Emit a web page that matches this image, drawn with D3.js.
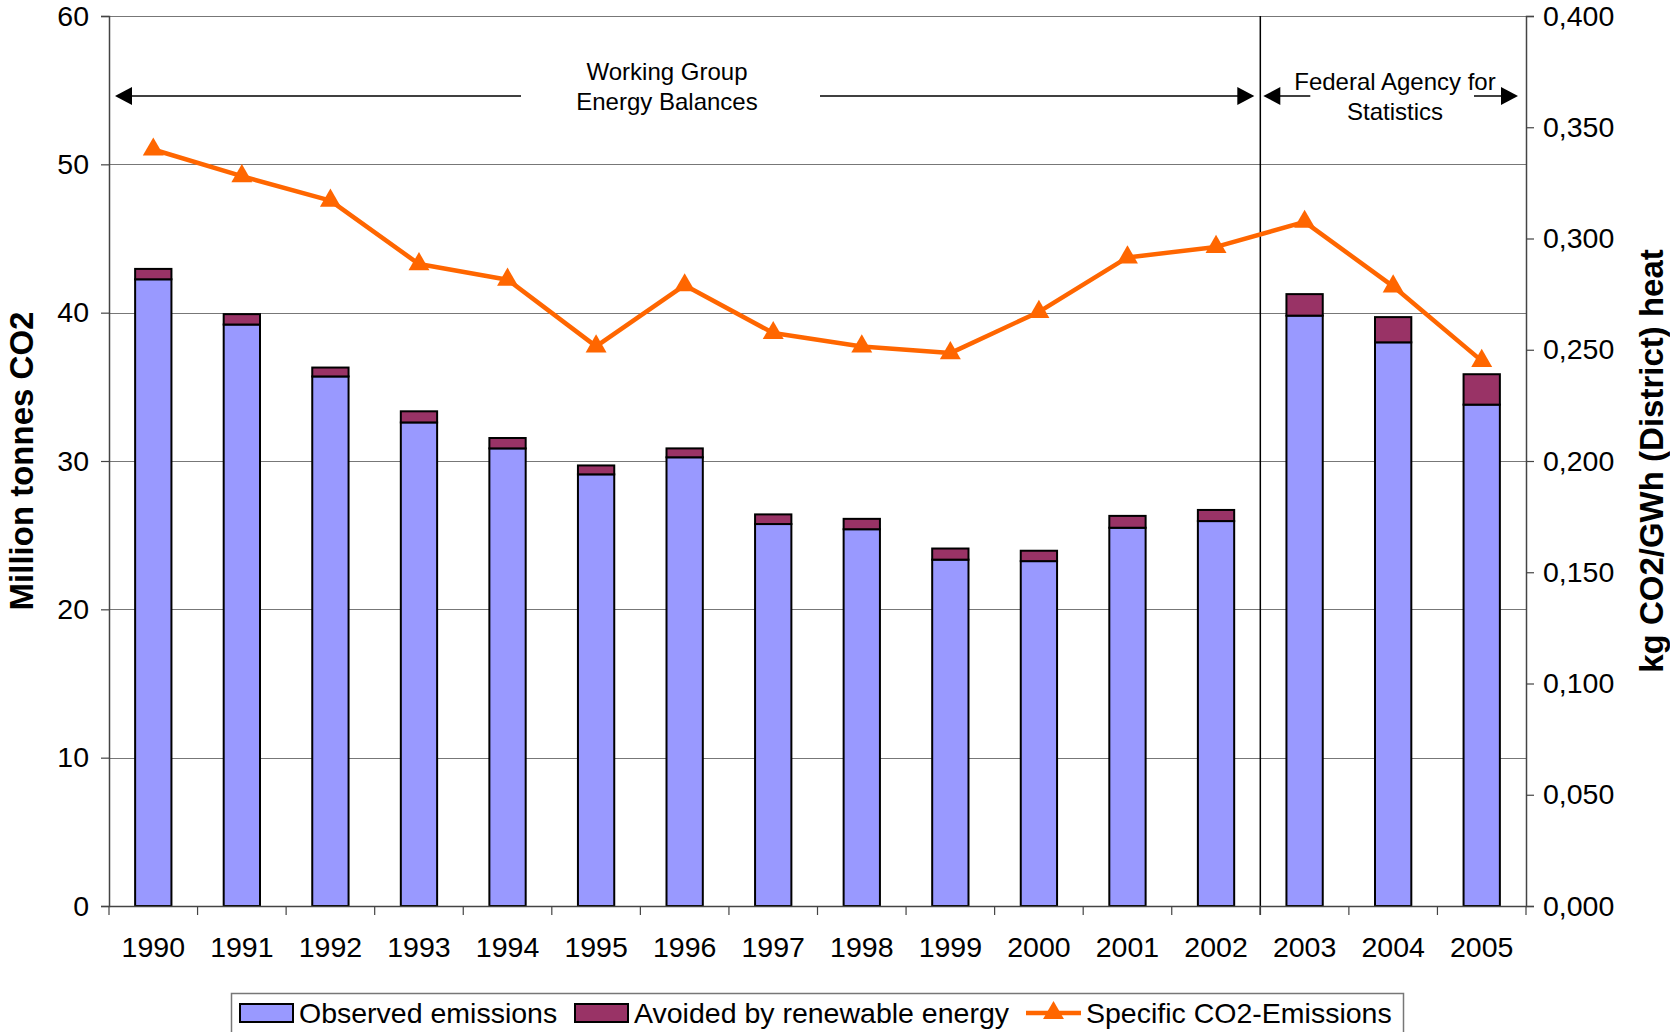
<!DOCTYPE html>
<html>
<head>
<meta charset="utf-8">
<script src="https://cdn.jsdelivr.net/npm/d3@7"></script>
<style>
  body { margin: 0; background: #fff; }
  svg { display: block; font-family: "Liberation Sans", Arial, sans-serif; }
</style>
</head>
<body>
<div id="chart"></div>
<script>
var years = ["1990", "1991", "1992", "1993", "1994", "1995", "1996", "1997",
             "1998", "1999", "2000", "2001", "2002", "2003", "2004", "2005"];
var observed = [42.25, 39.2, 35.7, 32.6, 30.85, 29.1, 30.25, 25.75,
                25.4, 23.35, 23.25, 25.5, 25.95, 39.8, 38.0, 33.8];
var avoided = [0.7, 0.7, 0.6, 0.75, 0.7, 0.6, 0.6, 0.65,
               0.7, 0.75, 0.7, 0.8, 0.75, 1.45, 1.7, 2.05];
var specific = [0.340, 0.328, 0.317, 0.2885, 0.2815, 0.2515, 0.279, 0.2575,
                0.2515, 0.2485, 0.267, 0.2915, 0.2962, 0.3075, 0.2785, 0.245];
var leftTicks = [0, 10, 20, 30, 40, 50, 60];
var rightTicks = [0, 0.05, 0.1, 0.15, 0.2, 0.25, 0.3, 0.35, 0.4];
var legendLabels = ["Observed emissions", "Avoided by renewable energy", "Specific CO2-Emissions"];

var W = 1670, H = 1032;
var margin = {top: 16, right: 144, bottom: 126, left: 109};
var width = W - margin.left - margin.right,
    height = H - margin.top - margin.bottom;

var blue = "#9999ff", plum = "#993366", orange = "#ff6600";

var svg = d3.select("#chart").append("svg")
  .attr("width", W)
  .attr("height", H);

var g = svg.append("g")
  .attr("transform", "translate(" + margin.left + "," + margin.top + ")");

var x = d3.scaleBand()
  .domain(years)
  .range([0, width])
  .paddingInner(0.59)
  .paddingOuter(0.295);

var y = d3.scaleLinear().domain([0, 60]).range([height, 0]);
var y2 = d3.scaleLinear().domain([0, 0.4]).range([height, 0]);

var comma = d3.formatLocale({decimal: ",", thousands: ".", grouping: [3], currency: ["", ""]});

// gridlines
g.selectAll(".grid")
  .data(leftTicks.slice(1))
  .enter().append("line")
  .attr("x1", 0)
  .attr("x2", width)
  .attr("y1", function(d) { return Math.round(y(d)) + 0.5; })
  .attr("y2", function(d) { return Math.round(y(d)) + 0.5; })
  .attr("stroke", "#777")
  .attr("stroke-width", 1.2);

// separator between the two data sources
var sepX = x("2003") - x.step() * x.paddingInner() / 2;
g.append("line")
  .attr("x1", sepX).attr("x2", sepX)
  .attr("y1", 0).attr("y2", height + 9)
  .attr("stroke", "#000")
  .attr("stroke-width", 1.5);

// stacked bars
var bars = g.selectAll(".bar")
  .data(years)
  .enter().append("g");

bars.append("rect")
  .attr("x", function(d) { return x(d); })
  .attr("width", x.bandwidth())
  .attr("y", function(d, i) { return y(observed[i]); })
  .attr("height", function(d, i) { return y(0) - y(observed[i]); })
  .attr("fill", blue)
  .attr("stroke", "#000")
  .attr("stroke-width", 2);

bars.append("rect")
  .attr("x", function(d) { return x(d); })
  .attr("width", x.bandwidth())
  .attr("y", function(d, i) { return y(observed[i] + avoided[i]); })
  .attr("height", function(d, i) { return y(observed[i]) - y(observed[i] + avoided[i]); })
  .attr("fill", plum)
  .attr("stroke", "#000")
  .attr("stroke-width", 2);

// axes
var yAxis = g.append("g")
  .call(d3.axisLeft(y).tickValues(leftTicks).tickSize(8).tickPadding(12));
var y2Axis = g.append("g")
  .attr("transform", "translate(" + width + ",0)")
  .call(d3.axisRight(y2).tickValues(rightTicks).tickSize(8).tickPadding(9)
    .tickFormat(comma.format(".3f")));

var xAxis = g.append("g")
  .attr("transform", "translate(0," + height + ")")
  .call(d3.axisBottom(x).tickSize(0).tickPadding(31));

// x ticks sit between categories
xAxis.selectAll(".between")
  .data(d3.range(years.length + 1))
  .enter().append("line")
  .attr("x1", function(i) { return i * x.step(); })
  .attr("x2", function(i) { return i * x.step(); })
  .attr("y1", 0).attr("y2", 9)
  .attr("stroke", "#444")
  .attr("stroke-width", 1.2);

[yAxis, y2Axis, xAxis].forEach(function(a) {
  a.select(".domain").attr("stroke", "#444").attr("stroke-width", 1.5);
  a.selectAll(".tick line").attr("stroke", "#444").attr("stroke-width", 1.2);
  a.selectAll("text")
    .attr("font-size", 28.5)
    .attr("fill", "#000")
    .style("font-family", "'Liberation Sans', Arial, sans-serif");
});
xAxis.selectAll(".tick text").attr("dy", "0.71em");

// specific emissions line
var line = d3.line()
  .x(function(d, i) { return x(years[i]) + x.bandwidth() / 2; })
  .y(function(d) { return y2(d); });

g.append("path")
  .datum(specific)
  .attr("d", line)
  .attr("fill", "none")
  .attr("stroke", orange)
  .attr("stroke-width", 4.5)
  .attr("stroke-linejoin", "round");

var tri = d3.symbol().type(d3.symbolTriangle).size(190);
g.selectAll(".marker")
  .data(specific)
  .enter().append("path")
  .attr("d", tri)
  .attr("transform", function(d, i) {
    return "translate(" + (x(years[i]) + x.bandwidth() / 2) + "," + y2(d) + ")";
  })
  .attr("fill", orange);

// source annotations
function arrow(x1, x2, yy) {
  g.append("line")
    .attr("x1", x1).attr("x2", x2)
    .attr("y1", yy).attr("y2", yy)
    .attr("stroke", "#000").attr("stroke-width", 1.6);
}
function head(tipX, yy, dir) {
  g.append("path")
    .attr("d", "M" + tipX + "," + yy + "L" + (tipX - dir * 17) + "," + (yy - 9) +
               "L" + (tipX - dir * 17) + "," + (yy + 9) + "Z")
    .attr("fill", "#000");
}
var arrowY = 80;
arrow(8, 412, arrowY);
head(6, arrowY, -1);
arrow(711, sepX - 8, arrowY);
head(sepX - 6, arrowY, 1);
arrow(sepX + 6, sepX + 50, arrowY);
head(sepX + 3, arrowY, -1);
arrow(width - 52, width - 10, arrowY);
head(width - 8, arrowY, 1);

var note = g.append("g")
  .attr("font-size", 24)
  .attr("text-anchor", "middle");
note.append("text").attr("x", 558).attr("y", 64).text("Working Group");
note.append("text").attr("x", 558).attr("y", 94).text("Energy Balances");
note.append("text").attr("x", 1286).attr("y", 74).text("Federal Agency for");
note.append("text").attr("x", 1286).attr("y", 104).text("Statistics");

// axis titles
svg.append("text")
  .attr("transform", "translate(33," + (margin.top + height / 2) + ") rotate(-90)")
  .attr("text-anchor", "middle")
  .attr("font-size", 33)
  .attr("font-weight", "bold")
  .text("Million tonnes CO2");

svg.append("text")
  .attr("transform", "translate(1663,461) rotate(-90)")
  .attr("text-anchor", "middle")
  .attr("font-size", 33)
  .attr("font-weight", "bold")
  .text("kg CO2/GWh (District) heat");

// legend
var lg = svg.append("g");
lg.append("rect")
  .attr("x", 231.5).attr("y", 993.5)
  .attr("width", 1172).attr("height", 60)
  .attr("fill", "#fff")
  .attr("stroke", "#777")
  .attr("stroke-width", 1.5);

var legX = [240, 575, 1026];
lg.append("rect")
  .attr("x", legX[0]).attr("y", 1004).attr("width", 53).attr("height", 18)
  .attr("fill", blue).attr("stroke", "#000").attr("stroke-width", 2);
lg.append("rect")
  .attr("x", legX[1]).attr("y", 1004).attr("width", 53).attr("height", 18)
  .attr("fill", plum).attr("stroke", "#000").attr("stroke-width", 2);
lg.append("line")
  .attr("x1", legX[2]).attr("x2", legX[2] + 55)
  .attr("y1", 1013).attr("y2", 1013)
  .attr("stroke", orange).attr("stroke-width", 4.5);
lg.append("path")
  .attr("d", tri)
  .attr("transform", "translate(" + (legX[2] + 27.5) + ",1013)")
  .attr("fill", orange);

lg.selectAll(".lt")
  .data(legendLabels)
  .enter().append("text")
  .attr("x", function(d, i) { return legX[i] + (i === 2 ? 60 : 59); })
  .attr("y", 1013)
  .attr("dy", "0.36em")
  .attr("font-size", 28.5)
  .text(function(d) { return d; });
</script>
</body>
</html>
